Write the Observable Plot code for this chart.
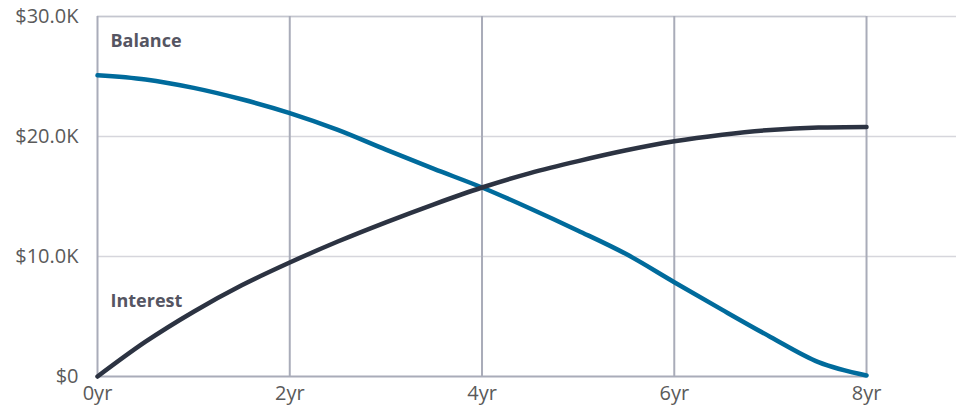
<!DOCTYPE html>
<html>
<head>
<meta charset="utf-8">
<script src="https://cdn.jsdelivr.net/npm/d3@7"></script>
<script src="https://cdn.jsdelivr.net/npm/@observablehq/plot@0.6"></script>
<style>
  html, body { margin: 0; padding: 0; background: #fff; }
  #chart { width: 956px; height: 406px; }
</style>
</head>
<body>
<div id="chart"></div>
<script>
const years = [0, 0.5, 1, 1.5, 2, 2.5, 3, 3.5, 4, 4.5, 5, 5.5, 6, 6.5, 7, 7.5, 8];
const balance = [25100, 24750, 24050, 23100, 21950, 20550, 18900, 17300, 15750, 14000, 12150, 10200, 7860, 5550, 3300, 1200, 80];
const interest = [0, 2900, 5400, 7600, 9500, 11250, 12850, 14350, 15750, 16950, 17950, 18850, 19600, 20150, 20550, 20750, 20800];
const seriesNames = ["Balance", "Interest"];
const xTicks = [0, 2, 4, 6, 8];
const yTicks = [0, 10000, 20000, 30000];

const rows = [];
years.forEach((t, i) => {
  rows.push({year: t, value: balance[i], series: seriesNames[0]});
  rows.push({year: t, value: interest[i], series: seriesNames[1]});
});

const colors = {Balance: "#006b9c", Interest: "#2c3342"};
const labelPos = [{series: "Balance", y: 27900}, {series: "Interest", y: 6250}];

const fmtY = d => d === 0 ? "$0" : "$" + (d / 1000).toFixed(1) + "K";

const chart = Plot.plot({
  width: 956,
  height: 406,
  marginLeft: 97,
  marginRight: 0,
  marginTop: 16,
  marginBottom: 30,
  style: {fontFamily: "'Open Sans', sans-serif", fontSize: "20px", background: "#fff", color: "#5a5a5a"},
  x: {domain: [0, 8.936], axis: null},
  y: {domain: [0, 30000], axis: null},
  marks: [
    Plot.ruleY(yTicks.filter(d => d > 0), {stroke: "#d6d6dc", strokeWidth: 1.5}),
    Plot.ruleY([30000], {x1: 0, x2: 8, stroke: "#c4c6cf", strokeWidth: 1.5}),
    Plot.ruleX(xTicks, {y1: 0, y2: 30000, stroke: "#a9acb9", strokeWidth: 2}),
    Plot.ruleY([0], {x1: 0, x2: 8, stroke: "#a9acb9", strokeWidth: 2}),
    Plot.axisY({ticks: yTicks, tickFormat: fmtY, tickSize: 0, tickPadding: 19, fill: "#5a5a5a", fontSize: 20, label: null}),
    Plot.axisX({ticks: xTicks, tickFormat: d => d + "yr", tickSize: 0, tickPadding: 9, fill: "#5a5a5a", fontSize: 20, label: null}),
    Plot.line(rows, {x: "year", y: "value", z: "series", stroke: d => colors[d.series], strokeWidth: 4.5, curve: "monotone-x"}),
    Plot.text(labelPos, {x: 0, y: "y", text: "series", dx: 13, textAnchor: "start", fontWeight: "bold", fontSize: 18, fill: "#555562"})
  ]
});
document.getElementById("chart").appendChild(chart);
</script>
</body>
</html>
